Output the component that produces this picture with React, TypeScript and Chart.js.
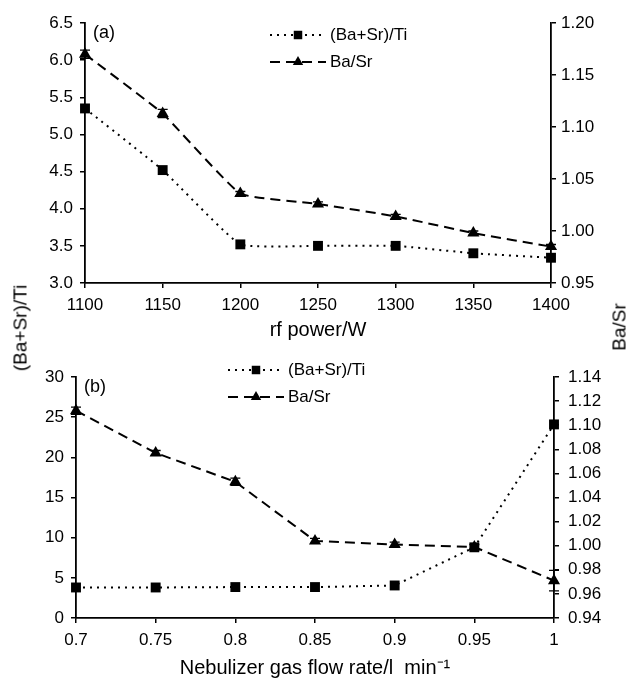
import React, { useEffect, useRef } from 'react';
import { Chart, registerables } from 'chart.js';

Chart.register(...registerables);

// ---------- data ----------
const rfPowerLabels = ['1100', '1150', '1200', '1250', '1300', '1350', '1400'];
const rfRatioTi = [5.35, 4.52, 3.52, 3.5, 3.5, 3.4, 3.34];
const rfBaSr = [1.17, 1.113, 1.036, 1.026, 1.014, 0.998, 0.985];
const rfBaSrErr = [0.004, 0.004, 0.002, 0.002, 0.002, 0.002, 0.002];

const flowLabels = ['0.7', '0.75', '0.8', '0.85', '0.9', '0.95', '1'];
const flowRatioTi = [3.8, 3.8, 3.85, 3.85, 4.05, 8.8, 24.1];
const flowBaSr = [1.112, 1.077, 1.053, 1.004, 1.001, 0.999, 0.971];
const flowBaSrErr = [0.003, 0.002, 0.003, 0.002, 0.002, 0.002, 0.0085];

const seriesNames = ['(Ba+Sr)/Ti', 'Ba/Sr'];
const panelLabels = ['(a)', '(b)'];
const xTitles = ['rf power/W', 'Nebulizer gas flow rate/l  min\u207B\u00B9'];

const FONT = "'Liberation Sans', Arial, Helvetica, sans-serif";
const BLACK = '#000';
const DOT = [2, 5];
const DASH = [10, 6];

function drawMarker(ctx: CanvasRenderingContext2D, style: string, x: number, y: number, r: number) {
  ctx.save();
  ctx.setLineDash([]);
  ctx.fillStyle = BLACK;
  ctx.beginPath();
  if (style === 'rect') {
    const s = r * Math.SQRT1_2;
    ctx.rect(x - s, y - s, 2 * s, 2 * s);
  } else {
    const a = (2 * Math.PI) / 3;
    ctx.moveTo(x, y - r);
    ctx.lineTo(x + Math.sin(a) * r, y - Math.cos(a) * r);
    ctx.lineTo(x + Math.sin(2 * a) * r, y - Math.cos(2 * a) * r);
    ctx.closePath();
  }
  ctx.fill();
  ctx.restore();
}

const decorPlugin = {
  id: 'decor',
  afterDatasetsDraw(chart: any, _args: any, opts: any) {
    const ctx: CanvasRenderingContext2D = chart.ctx;
    // error bars
    chart.data.datasets.forEach((ds: any, i: number) => {
      if (!ds.errors) return;
      const meta = chart.getDatasetMeta(i);
      const scale = chart.scales[ds.yAxisID || 'y'];
      ctx.save();
      ctx.strokeStyle = BLACK;
      ctx.lineWidth = 1.3;
      ctx.setLineDash([]);
      meta.data.forEach((pt: any, j: number) => {
        const v = ds.data[j];
        const e = ds.errors[j];
        const yT = scale.getPixelForValue(v + e);
        const yB = scale.getPixelForValue(v - e);
        ctx.beginPath();
        ctx.moveTo(pt.x, yT);
        ctx.lineTo(pt.x, yB);
        ctx.moveTo(pt.x - 5, yT);
        ctx.lineTo(pt.x + 5, yT);
        ctx.moveTo(pt.x - 5, yB);
        ctx.lineTo(pt.x + 5, yB);
        ctx.stroke();
      });
      ctx.restore();
    });
    // panel label
    const ca = chart.chartArea;
    ctx.save();
    ctx.fillStyle = BLACK;
    ctx.font = `18px ${FONT}`;
    ctx.textBaseline = 'middle';
    ctx.textAlign = 'left';
    ctx.fillText(opts.panel, ca.left + opts.panelDx, ca.top + opts.panelDy);
    // legend
    chart.data.datasets.forEach((ds: any, i: number) => {
      const y = opts.legendY + i * opts.legendGap;
      const x0 = opts.legendX;
      ctx.save();
      ctx.strokeStyle = BLACK;
      ctx.lineWidth = 2;
      ctx.setLineDash(ds.borderDash || []);
      ctx.beginPath();
      ctx.moveTo(x0, y);
      ctx.lineTo(x0 + opts.legendLen, y);
      ctx.stroke();
      ctx.restore();
      drawMarker(ctx, ds.pointStyle, x0 + opts.legendLen / 2, y, 6);
      ctx.font = `17px ${FONT}`;
      ctx.fillText(ds.label, x0 + opts.legendLen + 4, y);
    });
    ctx.restore();
  },
};

function makeConfig(p: {
  labels: string[];
  left: number[];
  right: number[];
  rightErr: number[];
  yMin: number; yMax: number; yStep: number; yDec: number;
  y1Min: number; y1Max: number; y1Step: number;
  areaLeft: number; areaRight: number; areaTop: number; areaBottom: number;
  canvasH: number; padBottom: number;
  xTitle: string; panel: string;
  legendX: number; legendY: number;
  rightPad: number; tension: number;
}) {
  const tickFont = { family: FONT, size: 17 };
  const grid = { display: true, drawOnChartArea: false, drawTicks: true, tickLength: 5, color: BLACK, lineWidth: 1.5 };
  const border = { display: true, color: BLACK, width: 1.8 };
  return {
    type: 'line' as const,
    data: {
      labels: p.labels,
      datasets: [
        {
          label: seriesNames[0],
          data: p.left,
          yAxisID: 'y',
          borderColor: BLACK,
          backgroundColor: BLACK,
          borderWidth: 2,
          borderDash: DOT,
          pointStyle: 'rect',
          pointRadius: 7,
          pointBackgroundColor: BLACK,
          pointBorderWidth: 0,
          tension: p.tension,
          clip: false,
        },
        {
          label: seriesNames[1],
          data: p.right,
          errors: p.rightErr,
          yAxisID: 'y1',
          borderColor: BLACK,
          backgroundColor: BLACK,
          borderWidth: 2,
          borderDash: DASH,
          pointStyle: 'triangle',
          pointRadius: 7,
          pointBackgroundColor: BLACK,
          pointBorderWidth: 0,
          tension: p.tension,
          clip: false,
        },
      ],
    },
    options: {
      animation: false as const,
      responsive: false,
      events: [],
      layout: { padding: { top: p.areaTop, bottom: p.padBottom, left: 0, right: 0 } },
      plugins: {
        legend: { display: false },
        tooltip: { enabled: false },
        decor: {
          panel: p.panel, panelDx: 8, panelDy: 10,
          legendX: p.legendX, legendY: p.legendY, legendGap: 27, legendLen: 56,
        },
      },
      scales: {
        x: {
          type: 'category' as const,
          offset: false,
          grid,
          border,
          ticks: { color: BLACK, font: tickFont, padding: 7, maxRotation: 0, autoSkip: false },
          title: { display: true, text: p.xTitle, color: BLACK, font: { family: FONT, size: 20 }, padding: 0 },
          afterFit: (s: any) => { s.height = p.canvasH - p.padBottom - p.areaBottom; },
        },
        y: {
          position: 'left' as const,
          min: p.yMin, max: p.yMax,
          grid, border,
          ticks: {
            stepSize: p.yStep, color: BLACK, font: tickFont, padding: 7,
            callback: (v: any) => Number(v).toFixed(p.yDec),
          },
          afterFit: (s: any) => { s.width = p.areaLeft; },
        },
        y1: {
          position: 'right' as const,
          min: p.y1Min, max: p.y1Max,
          grid, border,
          ticks: {
            stepSize: p.y1Step, color: BLACK, font: tickFont, padding: p.rightPad,
            callback: (v: any) => Number(v).toFixed(2),
          },
          afterFit: (s: any) => { s.width = 626 - p.areaRight; },
        },
      },
    },
    plugins: [decorPlugin],
  };
}

export default function App() {
  const c1 = useRef<HTMLCanvasElement>(null);
  const c2 = useRef<HTMLCanvasElement>(null);

  useEffect(() => {
    const ch1 = new Chart(c1.current as HTMLCanvasElement, makeConfig({
      labels: rfPowerLabels, left: rfRatioTi, right: rfBaSr, rightErr: rfBaSrErr,
      yMin: 3, yMax: 6.5, yStep: 0.5, yDec: 1,
      y1Min: 0.95, y1Max: 1.2, y1Step: 0.05,
      areaLeft: 85, areaRight: 551, areaTop: 23, areaBottom: 283,
      canvasH: 344, padBottom: 2,
      xTitle: xTitles[0], panel: panelLabels[0],
      legendX: 270, legendY: 35, rightPad: 5, tension: 0.12,
    }) as any);
    const ch2 = new Chart(c2.current as HTMLCanvasElement, makeConfig({
      labels: flowLabels, left: flowRatioTi, right: flowBaSr, rightErr: flowBaSrErr,
      yMin: 0, yMax: 30, yStep: 5, yDec: 0,
      y1Min: 0.94, y1Max: 1.14, y1Step: 0.02,
      areaLeft: 76, areaRight: 554, areaTop: 33, areaBottom: 274,
      canvasH: 344, padBottom: 8,
      xTitle: xTitles[1], panel: panelLabels[1],
      legendX: 228, legendY: 26, rightPad: 9, tension: 0,
    }) as any);
    return () => { ch1.destroy(); ch2.destroy(); };
  }, []);

  const yTitle: React.CSSProperties = {
    position: 'absolute',
    transform: 'translate(-50%, -50%) rotate(-90deg)',
    whiteSpace: 'nowrap',
    fontFamily: FONT,
    fontSize: 19,
    color: BLACK,
    lineHeight: 1,
  };

  return (
    <div style={{ position: 'absolute', left: 0, top: 0, width: 626, height: 688, background: '#fff' }}>
      <canvas ref={c1} width={626} height={344} style={{ position: 'absolute', left: 0, top: 0 }} />
      <canvas ref={c2} width={626} height={344} style={{ position: 'absolute', left: 0, top: 344 }} />
      <div style={{ ...yTitle, left: 20, top: 328 }}>{seriesNames[0]}</div>
      <div style={{ ...yTitle, left: 619, top: 327 }}>{seriesNames[1]}</div>
    </div>
  );
}
